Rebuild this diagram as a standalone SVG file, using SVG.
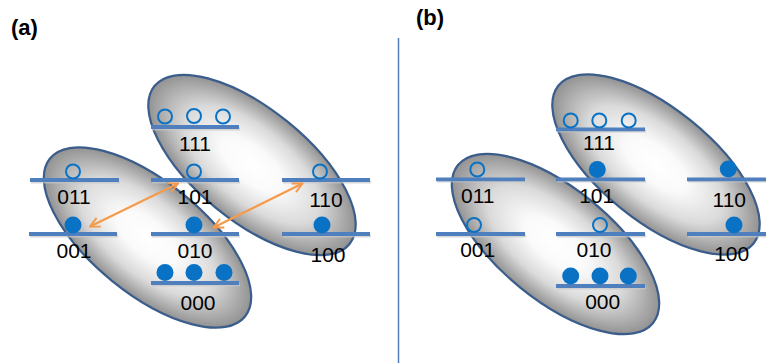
<svg xmlns="http://www.w3.org/2000/svg" width="766" height="363" viewBox="0 0 766 363">
<style>
.ell{fill:url(#g);stroke:#3a5d8c;stroke-width:2.2}
.lvl{stroke:#4f7fbd;stroke-width:3.8;fill:none}
.sh{stroke:#c8c8c8;stroke-width:3;fill:none;opacity:0.7}
.o{fill:none;stroke:#0a72c4;stroke-width:2}
.f{fill:#0a72c4}
.t{font-family:"Liberation Sans",Arial,sans-serif;font-size:21px;fill:#000;text-anchor:middle}
.lab{font-family:"Liberation Sans",Arial,sans-serif;font-size:22px;font-weight:bold;fill:#000}
.arr{stroke:#f59a4a;stroke-width:2.2;fill:none;marker-start:url(#ah);marker-end:url(#ah)}
</style>
<defs>
<radialGradient id="g" cx="0.5" cy="0.5" r="0.5">
<stop offset="0" stop-color="#ffffff"/>
<stop offset="0.3" stop-color="#fafafa"/>
<stop offset="0.65" stop-color="#dadada"/>
<stop offset="1" stop-color="#929292"/>
</radialGradient>
<marker id="ah" viewBox="0 0 10 10" refX="9" refY="5" markerWidth="5.5" markerHeight="5.5" orient="auto-start-reverse" markerUnits="strokeWidth">
<path d="M1,1 L9,5 L1,9" fill="none" stroke="#f59a4a" stroke-width="1.6"/>
</marker>
</defs>
<rect width="766" height="363" fill="#ffffff"/>
<text class="lab" x="11" y="35">(a)</text>
<text class="lab" x="416" y="25">(b)</text>
<line x1="398.5" y1="38" x2="398.5" y2="363" stroke="#4f7fbd" stroke-width="1.5"/>

<g id="panel-a">
<g id="a-ellipse-upper"><ellipse class="ell" cx="252" cy="165" rx="125.5" ry="56" transform="rotate(39 252 165)"/></g>
<g id="a-ellipse-lower"><ellipse class="ell" cx="147.5" cy="237.5" rx="125.5" ry="56" transform="rotate(39 147.5 237.5)"/></g>
<g id="a-111"><line class="sh" x1="152" y1="129" x2="240" y2="129"/><line class="lvl" x1="151" y1="127" x2="239" y2="127"/><circle class="o" cx="165" cy="116.5" r="7"/><circle class="o" cx="194" cy="116" r="7"/><circle class="o" cx="223" cy="116.5" r="7"/><text class="t" x="195" y="151">111</text></g>
<g id="a-011"><line class="sh" x1="31" y1="182" x2="120" y2="182"/><line class="lvl" x1="30" y1="180" x2="119" y2="180"/><circle class="o" cx="73" cy="171.5" r="7"/><text class="t" x="74" y="204">011</text></g>
<g id="a-101"><line class="sh" x1="152" y1="182" x2="240" y2="182"/><line class="lvl" x1="151" y1="180" x2="239" y2="180"/><circle class="o" cx="194" cy="171.5" r="7"/><text class="t" x="195" y="204">101</text></g>
<g id="a-110"><line class="sh" x1="283" y1="182" x2="371" y2="182"/><line class="lvl" x1="282" y1="180" x2="370" y2="180"/><circle class="o" cx="320" cy="171.5" r="7"/><text class="t" x="326" y="207">110</text></g>
<g id="a-001"><line class="sh" x1="30" y1="236" x2="118" y2="236"/><line class="lvl" x1="29" y1="234" x2="117" y2="234"/><circle class="f" cx="73" cy="225" r="8.5"/><text class="t" x="74" y="258">001</text></g>
<g id="a-010"><line class="sh" x1="152" y1="236" x2="240" y2="236"/><line class="lvl" x1="151" y1="234" x2="239" y2="234"/><circle class="f" cx="194" cy="225" r="8.5"/><text class="t" x="195" y="258">010</text></g>
<g id="a-100"><line class="sh" x1="283" y1="236" x2="371" y2="236"/><line class="lvl" x1="282" y1="234" x2="370" y2="234"/><circle class="f" cx="322" cy="225" r="8.5"/><text class="t" x="328" y="262">100</text></g>
<g id="a-000"><line class="sh" x1="152" y1="285" x2="240" y2="285"/><line class="lvl" x1="151" y1="283" x2="239" y2="283"/><circle class="f" cx="165" cy="272.5" r="8.5"/><circle class="f" cx="194" cy="272.5" r="8.5"/><circle class="f" cx="224" cy="272.5" r="8.5"/><text class="t" x="198" y="310">000</text></g>
<g id="a-connectors">
<line class="arr" x1="90" y1="226.5" x2="178" y2="183.5"/>
<line class="arr" x1="213.5" y1="227.5" x2="302.5" y2="183.5"/>
</g>
</g>

<g id="panel-b">
<g id="b-ellipse-upper"><ellipse class="ell" cx="656" cy="164.5" rx="125.5" ry="56" transform="rotate(39 656 164.5)"/></g>
<g id="b-ellipse-lower"><ellipse class="ell" cx="555.5" cy="244" rx="125.5" ry="56" transform="rotate(39 555.5 244)"/></g>
<g id="b-111"><line class="sh" x1="557" y1="131" x2="646" y2="131"/><line class="lvl" x1="556" y1="129.3" x2="645" y2="129.3"/><circle class="o" cx="570.7" cy="120.5" r="7"/><circle class="o" cx="599.3" cy="120.5" r="7"/><circle class="o" cx="628.7" cy="120.5" r="7"/><text class="t" x="599" y="150">111</text></g>
<g id="b-011"><line class="sh" x1="437" y1="181" x2="526" y2="181"/><line class="lvl" x1="436" y1="179.3" x2="525" y2="179.3"/><circle class="o" cx="477.3" cy="169.5" r="7"/><text class="t" x="477.7" y="203">011</text></g>
<g id="b-101"><line class="sh" x1="557" y1="181" x2="646" y2="181"/><line class="lvl" x1="556" y1="179.3" x2="645" y2="179.3"/><circle class="f" cx="597.3" cy="169.5" r="8.5"/><text class="t" x="596.7" y="203">101</text></g>
<g id="b-110"><line class="sh" x1="688" y1="181" x2="766" y2="181"/><line class="lvl" x1="687" y1="179.3" x2="766" y2="179.3"/><circle class="f" cx="728.3" cy="169" r="8.5"/><text class="t" x="729.3" y="207">110</text></g>
<g id="b-001"><line class="sh" x1="437" y1="236" x2="526" y2="236"/><line class="lvl" x1="436" y1="234" x2="525" y2="234"/><circle class="o" cx="474" cy="225" r="7"/><text class="t" x="477.7" y="257">001</text></g>
<g id="b-010"><line class="sh" x1="557" y1="236" x2="646" y2="236"/><line class="lvl" x1="556" y1="234" x2="645" y2="234"/><circle class="o" cx="600" cy="225" r="7"/><text class="t" x="594" y="257">010</text></g>
<g id="b-100"><line class="sh" x1="688" y1="236" x2="766" y2="236"/><line class="lvl" x1="687" y1="234" x2="766" y2="234"/><circle class="f" cx="734" cy="225" r="8.5"/><text class="t" x="731.7" y="261">100</text></g>
<g id="b-000"><line class="sh" x1="557" y1="288" x2="646" y2="288"/><line class="lvl" x1="556" y1="286" x2="645" y2="286"/><circle class="f" cx="570.7" cy="276" r="8.5"/><circle class="f" cx="600" cy="276" r="8.5"/><circle class="f" cx="628.3" cy="276" r="8.5"/><text class="t" x="602.7" y="309">000</text></g>
</g>
</svg>
